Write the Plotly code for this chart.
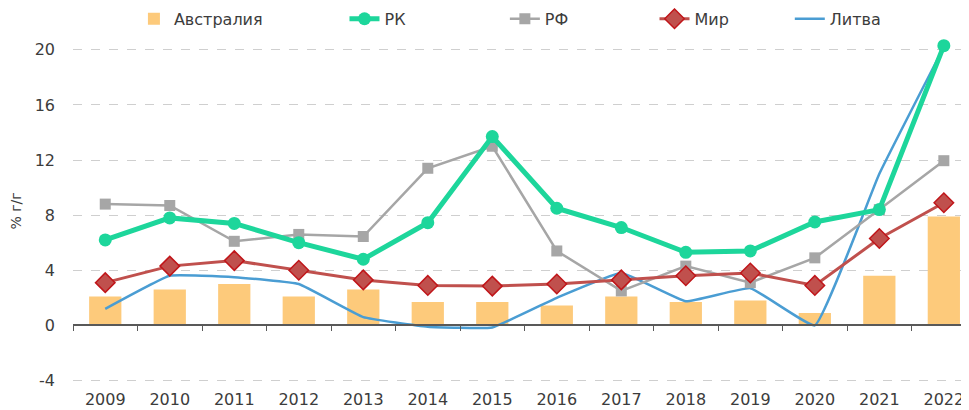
import plotly.graph_objects as go

years = ["2009", "2010", "2011", "2012", "2013", "2014", "2015", "2016", "2017", "2018", "2019", "2020", "2021", "2022"]
australia = [2.1, 2.6, 3.0, 2.1, 2.6, 1.7, 1.7, 1.45, 2.1, 1.7, 1.8, 0.9, 3.6, 7.9]
rk = [6.2, 7.8, 7.4, 6.0, 4.8, 7.45, 13.7, 8.5, 7.1, 5.3, 5.4, 7.5, 8.4, 20.3]
rf = [8.8, 8.7, 6.1, 6.6, 6.45, 11.4, 13.0, 5.4, 2.5, 4.3, 3.1, 4.9, 8.4, 11.95]
mir = [3.1, 4.3, 4.7, 4.0, 3.3, 2.9, 2.85, 3.0, 3.3, 3.6, 3.8, 2.9, 6.3, 8.9]
litva = [1.2, 3.6, 3.5, 3.0, 0.6, -0.1, -0.15, 2.0, 3.8, 1.75, 2.7, 0.0, 11.0, 20.2]
y_ticks = [-4, 0, 4, 8, 12, 16, 20]
y_tick_labels = ["-4", "0", "4", "8", "12", "16", "20"]

font = "DejaVu Sans"
txt = "#3c3c3c"
fig = go.Figure()
fig.add_trace(go.Bar(x=years, y=australia, name="Австралия", marker=dict(color="#fdca7b", line=dict(width=0)),
                     width=0.5, legend="legend"))
fig.add_trace(go.Scatter(x=years, y=litva, name="Литва", mode="lines",
                         line=dict(color="#4a9dd3", width=2.5, shape="spline", smoothing=0.3), legend="legend5"))
fig.add_trace(go.Scatter(x=years, y=rf, name="РФ", mode="lines+markers",
                         line=dict(color="#a6a6a6", width=2.5),
                         marker=dict(symbol="square", size=11, color="#a6a6a6"), legend="legend3"))
fig.add_trace(go.Scatter(x=years, y=mir, name="Мир", mode="lines+markers",
                         line=dict(color="#c0504d", width=3),
                         marker=dict(symbol="diamond", size=15, color="#c0504d", line=dict(color="#c0161a", width=1.5)),
                         legend="legend4"))
fig.add_trace(go.Scatter(x=years, y=rk, name="РК", mode="lines+markers",
                         line=dict(color="#1dd69b", width=5),
                         marker=dict(symbol="circle", size=13, color="#1dd69b"), legend="legend2"))

leg_common = dict(orientation="h", yanchor="middle", y=1.049, xanchor="left",
                  font=dict(family=font, size=16, color=txt), bgcolor="rgba(0,0,0,0)",
                  itemwidth=30, tracegroupgap=0)
xs = [0.068, 0.303, 0.482, 0.649, 0.800]
fig.update_layout(
    width=961, height=402,
    margin=dict(l=65, r=0, t=28, b=24, autoexpand=False),
    plot_bgcolor="white", paper_bgcolor="white",
    font=dict(family=font, size=16, color=txt),
    bargap=0.5,
    legend=dict(x=xs[0], **leg_common),
    legend2=dict(x=xs[1], **leg_common),
    legend3=dict(x=xs[2], **leg_common),
    legend4=dict(x=xs[3], **leg_common),
    legend5=dict(x=xs[4], **leg_common),
    xaxis=dict(type="category", range=[-0.5, 13.39], showgrid=False, showline=False, ticks="",
               automargin=False, ticklabelstandoff=2,
               tickfont=dict(family=font, size=16, color=txt), zeroline=False),
    xaxis2=dict(type="category", overlaying="x", anchor="free", matches="x", side="bottom",
                position=4.4 / 25.4, showline=True, linecolor="#595959", linewidth=1.5,
                ticks="outside", ticklen=5, tickcolor="#595959", tickson="boundaries",
                showticklabels=False, showgrid=False, automargin=False),
    yaxis=dict(range=[-4.4, 21.0], tickvals=y_ticks, ticktext=y_tick_labels,
               showgrid=True, gridcolor="#cfcfcf", griddash="dash",
               gridwidth=1, zeroline=False, showline=False, ticks="", automargin=False,
               ticklabelstandoff=17,
               tickfont=dict(family=font, size=16, color=txt),
               title=dict(text="% г/г", font=dict(family=font, size=14, color=txt), standoff=12)),
)
# invisible trace to activate xaxis2
fig.add_trace(go.Scatter(x=years, y=[None] * len(years), xaxis="x2", showlegend=False, hoverinfo="skip"))
fig.write_html("out.html")
